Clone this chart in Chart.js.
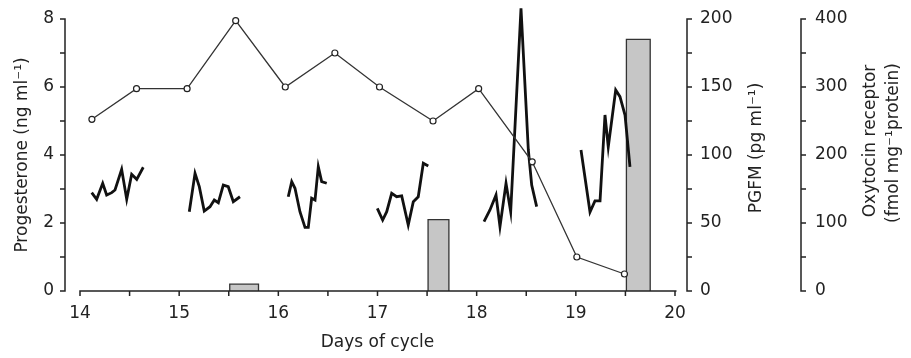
<!DOCTYPE html>
<html>
<head>
<meta charset="utf-8">
<script src="https://cdn.jsdelivr.net/npm/chart.js@4/dist/chart.umd.min.js"></script>
<style>
  body { margin: 0; background: #fff; }
  #chart { display: block; }
</style>
</head>
<body>
<canvas id="chart" width="911" height="358"></canvas>
<script>
// Progesterone (ng/ml), open circles
const progDays = [14.12, 14.57, 15.08, 15.57, 16.07, 16.57, 17.02, 17.56, 18.02, 18.56, 19.01, 19.49];
const progValues = [5.05, 5.95, 5.95, 7.95, 6.0, 7.0, 6.0, 5.0, 5.95, 3.8, 1.0, 0.5];

// PGFM (pg/ml), thick line in separate sampling runs (null = gap)
const pgfmDays = [
  14.118, 14.168, 14.229, 14.269, 14.320, 14.353, 14.420, 14.471, 14.521, 14.572, 14.638, null,
  15.102, 15.160, 15.203, 15.253, 15.311, 15.354, 15.395, 15.445, 15.495, 15.546, 15.613, null,
  16.100, 16.135, 16.168, 16.218, 16.269, 16.302, 16.336, 16.370, 16.403, 16.437, 16.488, null,
  16.998, 17.052, 17.093, 17.143, 17.193, 17.244, 17.310, 17.361, 17.411, 17.462, 17.512, null,
  18.074, 18.134, 18.195, 18.235, 18.296, 18.343, 18.447, 18.521, 18.555, 18.605, null,
  19.052, 19.143, 19.193, 19.244, 19.294, 19.327, 19.402, 19.445, 19.496, 19.546
];
const pgfmValues = [
  72.3, 67.4, 79.2, 70.6, 72.3, 74.3, 89.5, 67.4, 85.8, 82.1, 91.0, null,
  58.3, 86.5, 76.7, 58.8, 62.0, 66.9, 64.9, 77.9, 76.7, 65.7, 69.3, null,
  69.3, 80.4, 75.5, 58.3, 46.8, 46.8, 68.2, 66.9, 91.4, 80.4, 79.2, null,
  60.8, 52.2, 58.3, 71.8, 69.3, 69.9, 48.5, 65.7, 69.3, 93.9, 91.9, null,
  51.0, 59.6, 70.6, 47.3, 79.2, 58.3, 207.9, 103.7, 77.9, 62.0, null,
  103.7, 58.1, 66.2, 66.2, 129.4, 106.0, 147.8, 142.9, 129.4, 91.2
];

// Oxytocin receptor (fmol/mg protein), bars over the sampling interval
const oxyStart = [15.51, 17.51, 19.51];
const oxyEnd = [15.80, 17.72, 19.75];
const oxyValues = [10, 105, 370];

const FONT = '"DejaVu Sans", Verdana, sans-serif';
Chart.defaults.font.family = FONT;
Chart.defaults.font.size = 17;
Chart.defaults.color = '#222';

const datasets = [];

datasets.push({
    data: progDays.map((d, i) => ({ x: d, y: progValues[i] })),
    yAxisID: 'yProg',
    borderColor: '#333',
    borderWidth: 1.3,
    pointRadius: 3,
    pointBackgroundColor: '#fff',
    pointBorderColor: '#222',
    pointBorderWidth: 1.2,
    tension: 0,
    clip: false,
});

// split PGFM runs at the gaps
let run = [];
pgfmDays.forEach((d, i) => {
    if (d === null) {
        datasets.push(pgfmRun(run));
        run = [];
    } else {
        run.push({ x: d, y: pgfmValues[i] });
    }
});
datasets.push(pgfmRun(run));

function pgfmRun(points) {
    return {
        data: points,
        yAxisID: 'yPgfm',
        borderColor: '#111',
        borderWidth: 2.8,
        pointRadius: 0,
        tension: 0,
        clip: false,
    };
}

oxyValues.forEach((v, i) => {
    datasets.push({
        data: [
            { x: oxyStart[i], y: 0 },
            { x: oxyStart[i], y: v },
            { x: oxyEnd[i], y: v },
            { x: oxyEnd[i], y: 0 },
        ],
        yAxisID: 'yOxy',
        borderColor: '#333',
        borderWidth: 1.3,
        backgroundColor: '#c6c6c6',
        fill: 'origin',
        pointRadius: 0,
        tension: 0,
    });
});

function drawRotated(ctx, text, x, y) {
    ctx.save();
    ctx.translate(x, y);
    ctx.rotate(-Math.PI / 2);
    ctx.fillText(text, 0, 0);
    ctx.restore();
}

const axisPlugin = {
    id: 'axisPlugin',
    afterDraw(chart) {
        const ctx = chart.ctx;
        const area = chart.chartArea;
        const { x, yProg, yPgfm, yOxy } = chart.scales;
        ctx.save();
        ctx.strokeStyle = '#222';
        ctx.lineWidth = 1.5;
        ctx.beginPath();

        // bottom axis, ticks pointing down every half day
        const yb = area.bottom;
        ctx.moveTo(x.getPixelForValue(14) - 0.75, yb);
        ctx.lineTo(x.getPixelForValue(20) + 1.5, yb);
        for (let d = 14; d <= 20.001; d += 0.5) {
            const px = x.getPixelForValue(d);
            ctx.moveTo(px, yb);
            ctx.lineTo(px, yb + 5);
        }

        // left progesterone axis, ticks pointing left
        const xl = area.left - 15;
        ctx.moveTo(xl, yProg.getPixelForValue(0) + 0.75);
        ctx.lineTo(xl, yProg.getPixelForValue(8) - 0.75);
        for (let v = 0; v <= 8; v++) {
            const py = yProg.getPixelForValue(v);
            ctx.moveTo(xl, py);
            ctx.lineTo(xl - 5, py);
        }

        // PGFM axis, ticks pointing right
        const xp = area.right + 12;
        ctx.moveTo(xp, yPgfm.getPixelForValue(0) + 0.75);
        ctx.lineTo(xp, yPgfm.getPixelForValue(200) - 0.75);
        for (let v = 0; v <= 200; v += 25) {
            const py = yPgfm.getPixelForValue(v);
            ctx.moveTo(xp, py);
            ctx.lineTo(xp + 5, py);
        }

        // oxytocin receptor axis
        const xo = area.right + 126;
        ctx.moveTo(xo, yOxy.getPixelForValue(0) + 0.75);
        ctx.lineTo(xo, yOxy.getPixelForValue(400) - 0.75);
        for (let v = 0; v <= 400; v += 50) {
            const py = yOxy.getPixelForValue(v);
            ctx.moveTo(xo, py);
            ctx.lineTo(xo + 5, py);
        }
        ctx.stroke();

        // right-hand titles read upwards like the left one
        ctx.fillStyle = '#222';
        ctx.font = '17px ' + FONT;
        ctx.textAlign = 'center';
        ctx.textBaseline = 'middle';
        drawRotated(ctx, 'PGFM (pg ml⁻¹)', area.right + 82, 148);
        drawRotated(ctx, 'Oxytocin receptor', area.right + 196, 141);
        drawRotated(ctx, '(fmol mg⁻¹protein)', area.right + 219, 143);
        ctx.restore();
    }
};

new Chart(document.getElementById('chart'), {
    type: 'line',
    data: { datasets: datasets },
    options: {
        responsive: false,
        animation: false,
        layout: { padding: { top: 19, right: 0, bottom: 0, left: 0 } },
        plugins: { legend: { display: false }, tooltip: { enabled: false } },
        scales: {
            x: {
                type: 'linear',
                position: 'bottom',
                min: 14,
                max: 20,
                grid: { display: false, drawTicks: true, tickLength: 12 },
                border: { display: false },
                ticks: { stepSize: 1, padding: 0, maxRotation: 0 },
                title: { display: true, text: 'Days of cycle', padding: { top: 0, bottom: 5 } },
                afterFit: (s) => { s.height = 67; },
            },
            yProg: {
                type: 'linear',
                position: 'left',
                min: 0,
                max: 8,
                grid: { display: false, drawTicks: true, tickLength: 26 },
                border: { display: false },
                ticks: { stepSize: 2, padding: 0 },
                title: { display: true, text: 'Progesterone (ng ml⁻¹)', padding: { top: 12, bottom: 0 } },
                afterFit: (s) => { s.width = 80; },
            },
            yPgfm: {
                type: 'linear',
                position: 'right',
                min: 0,
                max: 200,
                grid: { display: false, drawTicks: true, tickLength: 25 },
                border: { display: false },
                ticks: { stepSize: 50, padding: 0 },
                afterFit: (s) => { s.width = 115; },
            },
            yOxy: {
                type: 'linear',
                position: 'right',
                min: 0,
                max: 400,
                grid: { display: false, drawTicks: true, tickLength: 25 },
                border: { display: false },
                ticks: { stepSize: 100, padding: 0 },
                afterFit: (s) => { s.width = 121; },
            },
        },
    },
    plugins: [axisPlugin],
});
</script>
</body>
</html>
